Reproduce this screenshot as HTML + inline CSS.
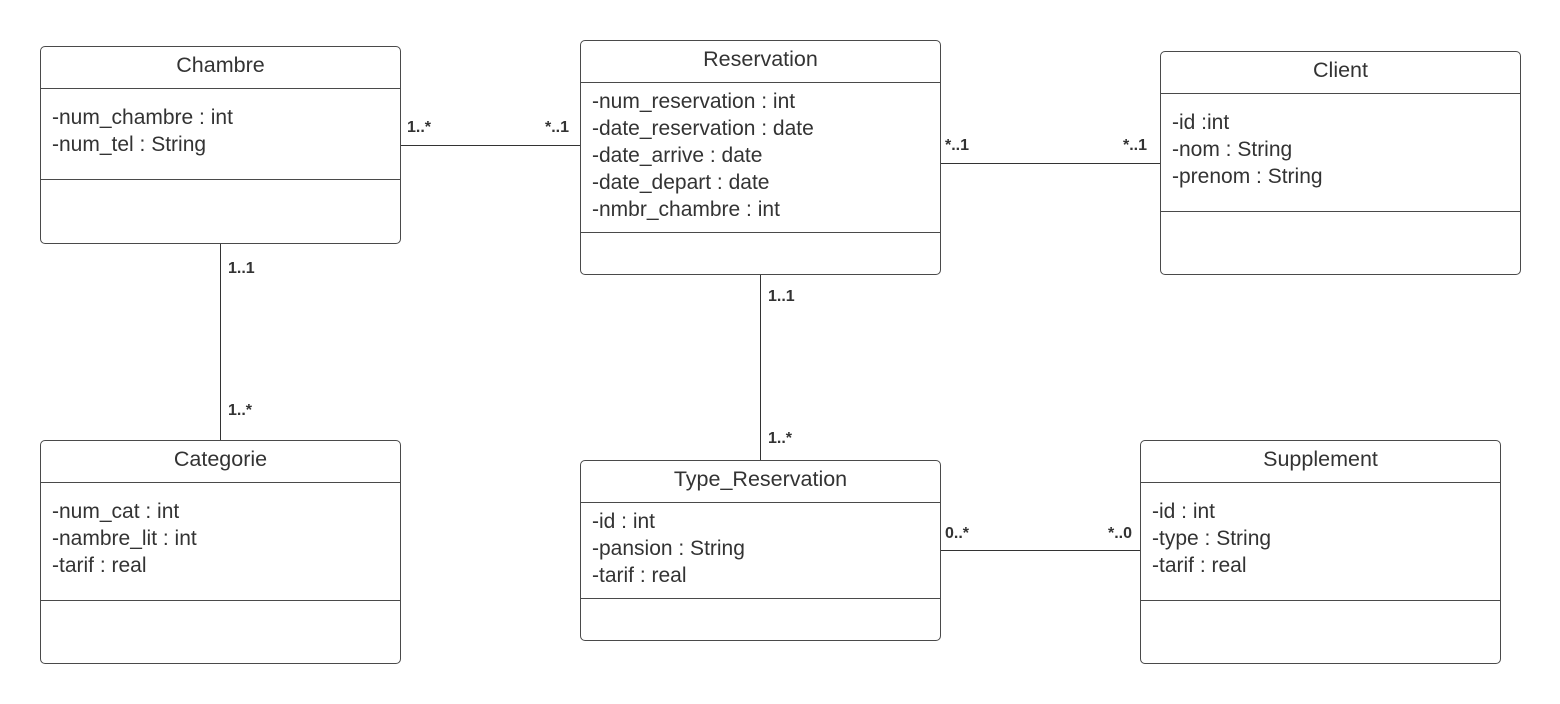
<!DOCTYPE html>
<html><head><meta charset="utf-8"><style>
body{margin:0;width:1560px;height:704px;background:#fff;position:relative;overflow:hidden;font-family:"Liberation Sans",Arial,sans-serif;color:#333}
.b{position:absolute;border:1.5px solid #4a4a4a;border-radius:5px;box-sizing:border-box;background:#fff}
.t{position:absolute;left:0;right:0;text-align:center;font-size:21.5px}
.h{position:absolute;left:0;right:0;border-top:1.2px solid #4a4a4a}
.a{position:absolute;left:11px;font-size:21px;line-height:27px;white-space:pre}
.l{position:absolute;background:#333}
.m{position:absolute;font-size:16px;font-weight:bold;color:#333}
</style></head><body>
<div class="l" style="left:400px;top:145px;width:180px;height:1px"></div>
<div class="l" style="left:940px;top:163px;width:220px;height:1px"></div>
<div class="l" style="left:220px;top:243px;width:1px;height:197px"></div>
<div class="l" style="left:760px;top:274px;width:1px;height:186px"></div>
<div class="l" style="left:940px;top:550px;width:200px;height:1px"></div>

<div class="b" style="left:40px;top:46px;width:361px;height:198px">
<div class="t" style="top:6px">Chambre</div><div class="h" style="top:41px"></div>
<div class="a" style="top:57px">-num_chambre : int
-num_tel : String</div><div class="h" style="top:132px"></div></div>

<div class="b" style="left:580px;top:40px;width:361px;height:235px">
<div class="t" style="top:6px">Reservation</div><div class="h" style="top:41px"></div>
<div class="a" style="top:47px">-num_reservation : int
-date_reservation : date
-date_arrive : date
-date_depart : date
-nmbr_chambre : int</div><div class="h" style="top:191px"></div></div>

<div class="b" style="left:1160px;top:51px;width:361px;height:224px">
<div class="t" style="top:6px">Client</div><div class="h" style="top:41px"></div>
<div class="a" style="top:57px">-id :int
-nom : String
-prenom : String</div><div class="h" style="top:159px"></div></div>

<div class="b" style="left:40px;top:440px;width:361px;height:224px">
<div class="t" style="top:6px">Categorie</div><div class="h" style="top:41px"></div>
<div class="a" style="top:57px">-num_cat : int
-nambre_lit : int
-tarif : real</div><div class="h" style="top:159px"></div></div>

<div class="b" style="left:580px;top:460px;width:361px;height:181px">
<div class="t" style="top:6px">Type_Reservation</div><div class="h" style="top:41px"></div>
<div class="a" style="top:47px">-id : int
-pansion : String
-tarif : real</div><div class="h" style="top:137px"></div></div>

<div class="b" style="left:1140px;top:440px;width:361px;height:224px">
<div class="t" style="top:6px">Supplement</div><div class="h" style="top:41px"></div>
<div class="a" style="top:57px">-id : int
-type : String
-tarif : real</div><div class="h" style="top:159px"></div></div>

<div class="m" style="left:407px;top:119px">1..*</div>
<div class="m" style="left:545px;top:119px">*..1</div>
<div class="m" style="left:945px;top:137px">*..1</div>
<div class="m" style="left:1123px;top:137px">*..1</div>
<div class="m" style="left:228px;top:260px">1..1</div>
<div class="m" style="left:228px;top:402px">1..*</div>
<div class="m" style="left:768px;top:288px">1..1</div>
<div class="m" style="left:768px;top:430px">1..*</div>
<div class="m" style="left:945px;top:525px">0..*</div>
<div class="m" style="left:1108px;top:525px">*..0</div>
</body></html>
